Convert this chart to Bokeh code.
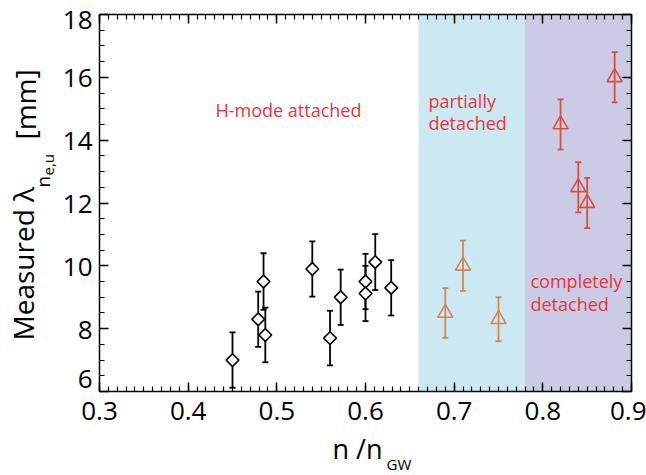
import numpy as np
from bokeh.plotting import figure
from bokeh.models import (ColumnDataSource, Range1d, FixedTicker, LinearAxis,
                          BoxAnnotation, Whisker, TeeHead, Label)
from bokeh.embed import file_html
from bokeh.resources import INLINE

# ---------------- data ----------------
# H-mode attached (black diamonds)
att_x = [0.450, 0.479, 0.485, 0.487, 0.540, 0.560, 0.572, 0.600, 0.600, 0.611, 0.629]
att_y = [7.00, 8.30, 9.50, 7.80, 9.90, 7.70, 9.00, 9.50, 9.12, 10.12, 9.30]
att_err = [0.88, 0.88, 0.90, 0.87, 0.88, 0.87, 0.88, 0.88, 0.88, 0.89, 0.88]

# partially detached (orange triangles)
par_x = [0.690, 0.710, 0.750]
par_y = [8.50, 10.00, 8.30]
par_err = [0.79, 0.80, 0.70]

# completely detached (red triangles)
com_x = [0.820, 0.840, 0.850, 0.881]
com_y = [14.50, 12.50, 12.00, 16.00]
com_err = [0.80, 0.80, 0.80, 0.80]

# regime boundaries
partial_start = 0.66
complete_start = 0.78

x_ticks = [0.3, 0.4, 0.5, 0.6, 0.7, 0.8, 0.9]
y_ticks = [6, 8, 10, 12, 14, 16, 18]

X0, X1 = 0.3, 0.9      # axis extent
Y0, Y1 = 6.0, 18.0

# ---------------- layout (page pixels) ----------------
W, H = 646, 475
FL, FR = 99, 631       # axes box left / right on page
FT, FB = 14, 391       # axes box top / bottom on page
SX = (X1 - X0) / (FR - FL)
SY = (Y1 - Y0) / (FB - FT)


def px(xp):
    return X0 + (xp - FL) * SX


def py(yp):
    return Y0 + (FB - yp) * SY


FONT = "Open Sans"
RED_TXT = "#e8353c"
ORANGE = "#d4884e"
RED = "#d9503a"

# the frame fills the whole canvas; the axes are pinned at the box edges
p = figure(width=W, height=H, output_backend="svg", toolbar_location=None,
           x_range=Range1d(px(0), px(W)), y_range=Range1d(py(H), py(0)),
           min_border=0, background_fill_color="white", border_fill_color="white")
p.xgrid.visible = False
p.ygrid.visible = False
p.outline_line_color = None

x_minor = [round(v, 2) for v in np.arange(0.3, 0.9001, 0.01)]
y_minor = [round(v, 1) for v in np.arange(6, 18.001, 0.5)]


def style_axis(ax, show_labels, standoff):
    ax.major_tick_in = 9
    ax.major_tick_out = 0
    ax.minor_tick_in = 5
    ax.minor_tick_out = 0
    ax.axis_line_width = 1.5
    ax.axis_line_color = "black"
    ax.major_tick_line_width = 1.5
    ax.minor_tick_line_width = 1.2
    ax.major_tick_line_color = "black"
    ax.minor_tick_line_color = "black"
    ax.major_label_text_font = FONT
    ax.major_label_text_color = "black"
    ax.major_label_text_font_size = "26px"
    ax.major_label_standoff = standoff
    if not show_labels:
        ax.major_label_text_alpha = 0.0


bx = p.xaxis[0]
bx.ticker = FixedTicker(ticks=x_ticks, minor_ticks=x_minor)
bx.fixed_location = Y0
bx.bounds = (X0, X1)
style_axis(bx, True, 10)

ly = p.yaxis[0]
ly.ticker = FixedTicker(ticks=y_ticks, minor_ticks=y_minor)
ly.fixed_location = X0
ly.bounds = (Y0, Y1)
style_axis(ly, True, 7)
ly.major_label_overrides = {6: " "}

top_ax = LinearAxis(ticker=FixedTicker(ticks=x_ticks, minor_ticks=x_minor),
                    fixed_location=Y1, bounds=(X0, X1))
style_axis(top_ax, False, 0)
top_ax.major_label_overrides = {t: " " for t in x_ticks}
p.add_layout(top_ax, "above")

right_ax = LinearAxis(ticker=FixedTicker(ticks=y_ticks, minor_ticks=y_minor),
                      fixed_location=X1, bounds=(Y0, Y1))
style_axis(right_ax, False, 0)
right_ax.major_label_overrides = {t: " " for t in y_ticks}
p.add_layout(right_ax, "right")

# shaded regimes
p.add_layout(BoxAnnotation(left=partial_start, right=complete_start, bottom=Y0, top=Y1,
                           fill_color="#cce9f3", fill_alpha=1.0, line_alpha=0,
                           level="underlay"))
p.add_layout(BoxAnnotation(left=complete_start, right=X1, bottom=Y0, top=Y1,
                           fill_color="#cbcbe5", fill_alpha=1.0, line_alpha=0,
                           level="underlay"))
p.segment(x0=[complete_start], y0=[Y0], x1=[complete_start], y1=[Y1],
          line_color="#a9c6e6", line_width=2, level="underlay")


def series(xs, ys, errs, color, marker, size, fill, angle=0.0):
    src = ColumnDataSource(dict(x=xs, y=ys,
                                lo=[a - b for a, b in zip(ys, errs)],
                                hi=[a + b for a, b in zip(ys, errs)]))
    w = Whisker(base="x", lower="lo", upper="hi", source=src, dimension="height",
                line_color=color, line_width=1.8, level="underlay",
                upper_head=TeeHead(size=6, line_color=color, line_width=1.8),
                lower_head=TeeHead(size=6, line_color=color, line_width=1.8))
    p.add_layout(w)
    p.scatter("x", "y", source=src, marker=marker, size=size, angle=angle,
              line_color=color, line_width=1.6, fill_color=fill,
              fill_alpha=1.0 if fill else 0.0)


series(att_x, att_y, att_err, "black", "square", 9, "white", angle=np.pi / 4)
series(par_x, par_y, par_err, ORANGE, "triangle", 15, None)
series(com_x, com_y, com_err, RED, "triangle", 15, None)

K = 0.44  # empirical baseline correction (fraction of font size)


def lab(text, xp, yp, size, color="black", align="left", baseline="alphabetic", angle=0.0):
    if baseline == "alphabetic":
        if angle == 0.0:
            yp = yp - K * size
        else:
            xp = xp - K * size
    p.add_layout(Label(x=px(xp), y=py(yp), text=text, text_font=FONT,
                       text_font_size=f"{size}px", text_color=color,
                       text_align=align, text_baseline=baseline, angle=angle))


# regime annotations
lab("H-mode attached", 215, 117, 18, RED_TXT)
lab("partially", 428, 108, 18, RED_TXT)
lab("detached", 428, 130, 18, RED_TXT)
lab("completely", 530, 288, 18, RED_TXT)
lab("detached", 530, 311, 18, RED_TXT)

# y tick label "6" (drawn shifted up, as in the original)
lab("6", 92, 378, 26, align="right", baseline="middle")

# y axis title
lab("Measured \u03bb", 35, 340, 28, angle=np.pi / 2)
lab("n", 51, 187, 19, angle=np.pi / 2)
lab("e,u", 54, 175, 15, angle=np.pi / 2)
lab("[mm]", 37, 139, 28, angle=np.pi / 2)

# x axis title
lab("n /n", 332, 460, 27)
lab("GW", 386, 470, 15)

open("out.html", "w").write(file_html(p, INLINE))
